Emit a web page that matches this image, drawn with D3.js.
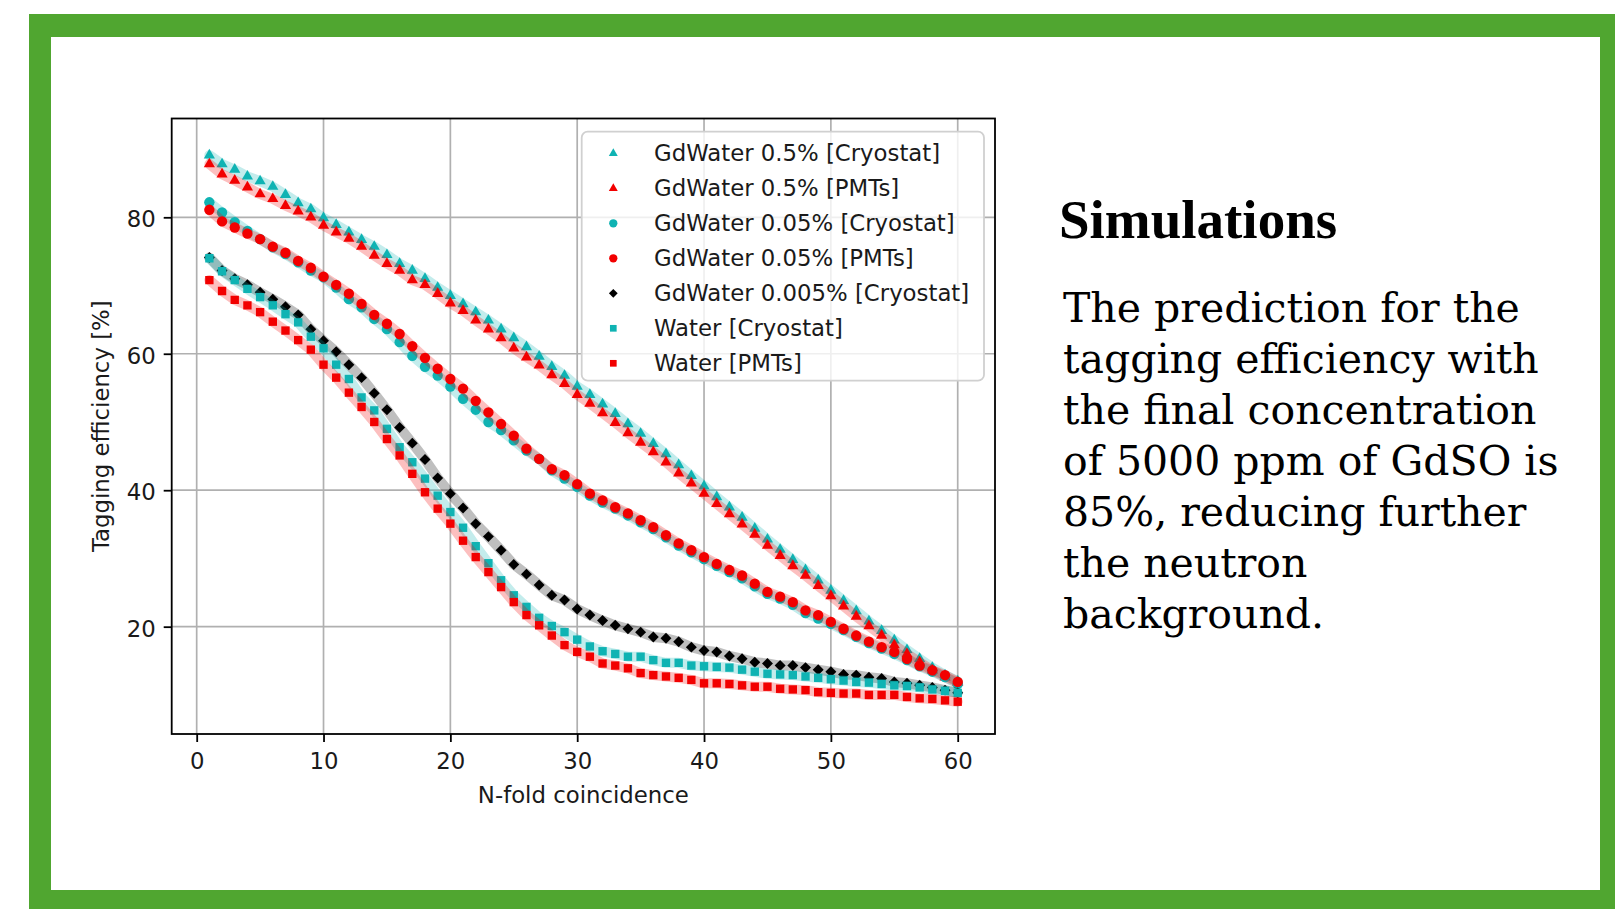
<!DOCTYPE html>
<html>
<head>
<meta charset="utf-8">
<script src="https://cdn.jsdelivr.net/npm/d3@7"></script>
<style>
  html, body { margin: 0; padding: 0; background: #fff; }
  svg { display: block; }
</style>
</head>
<body>
<svg id="chart" width="1615" height="909"></svg>
<script>
// ---------------- DATA ----------------
const nfold = [1,2,3,4,5,6,7,8,9,10,11,12,13,14,15,16,17,18,19,20,
               21,22,23,24,25,26,27,28,29,30,31,32,33,34,35,36,37,38,39,40,
               41,42,43,44,45,46,47,48,49,50,51,52,53,54,55,56,57,58,59,60];

const gd05Cryostat = [89.1,87.8,87.0,86.0,85.3,84.5,83.3,82.1,81.2,79.9,78.9,77.8,76.7,75.7,74.5,73.2,72.2,71.0,69.7,68.5,
                      67.3,66.1,64.9,63.6,62.3,61.0,59.6,58.1,56.8,55.2,54.0,52.6,51.2,49.7,48.3,46.8,45.3,43.7,42.1,40.6,
                      39.0,37.5,36.0,34.4,32.8,31.3,29.8,28.3,26.8,25.3,23.8,22.3,20.8,19.4,18.0,16.6,15.3,14.0,12.9,12.0];
const gd05PMTs     = [87.8,86.3,85.4,84.4,83.4,82.7,81.7,80.9,80.0,78.8,77.8,76.9,75.7,74.4,73.2,72.2,70.8,70.1,68.8,67.4,
                      66.3,64.9,63.6,62.3,60.8,59.5,58.3,56.9,55.6,54.0,52.7,51.3,49.9,48.4,47.0,45.6,44.1,42.5,41.0,39.5,
                      38.0,36.5,35.0,33.5,31.9,30.4,28.9,27.5,26.0,24.5,23.0,21.5,20.1,18.7,17.3,16.0,14.8,13.6,12.6,11.8];
const gd005Cryostat = [82.2,80.7,79.3,78.0,76.8,75.6,74.6,73.4,72.2,71.2,69.7,68.0,66.8,65.1,63.6,61.7,59.7,58.1,56.8,55.2,
                       53.4,51.8,50.0,48.8,47.3,45.8,44.6,42.9,41.7,40.5,39.2,38.2,37.3,36.3,35.3,34.3,33.1,31.9,30.9,29.9,
                       28.9,28.0,27.1,25.9,24.8,24.1,23.2,22.0,21.2,20.4,19.5,18.5,17.6,16.8,16.0,15.1,14.2,13.4,12.6,11.6];
const gd005PMTs     = [81.1,79.4,78.5,77.6,76.8,75.7,74.8,73.6,72.6,71.3,70.1,68.8,67.3,65.7,64.4,62.9,61.1,59.4,57.8,56.3,
                       54.9,53.1,51.4,49.7,48.0,46.1,44.6,43.1,42.2,40.9,39.5,38.5,37.5,36.6,35.6,34.6,33.4,32.2,31.2,30.2,
                       29.2,28.3,27.5,26.3,25.1,24.4,23.6,22.4,21.7,20.7,19.7,18.7,17.8,17.0,16.3,15.3,14.3,13.6,12.9,11.9];
const gd0005Cryostat = [74.1,72.2,71.0,70.1,69.0,68.0,66.9,65.7,63.6,61.9,60.3,58.4,56.5,54.2,51.8,49.2,46.9,44.5,41.8,39.5,
                        37.4,35.1,33.2,31.2,29.1,27.7,26.1,24.6,23.9,22.6,21.7,20.9,20.2,19.7,19.2,18.5,18.3,17.8,17.0,16.5,
                        16.3,15.7,15.3,14.8,14.6,14.3,14.3,14.0,13.7,13.4,13.0,12.9,12.6,12.4,11.9,11.7,11.4,11.1,10.7,10.3];
const waterCryostat = [74.0,72.1,70.8,69.5,68.3,67.1,65.8,64.6,62.5,60.8,58.4,56.3,53.6,51.7,49.0,46.3,44.1,41.7,39.2,36.8,
                       34.5,31.8,29.3,26.8,24.6,22.9,21.3,20.1,19.2,18.1,17.1,16.4,16.0,15.6,15.6,15.1,14.7,14.7,14.3,14.2,
                       14.1,14.0,13.7,13.4,13.1,13.0,12.9,12.7,12.5,12.3,12.1,11.9,11.8,11.6,11.4,11.3,11.1,10.8,10.6,10.3];
const waterPMTs     = [70.8,69.2,67.9,67.1,66.1,64.7,63.4,62.0,60.6,58.4,56.5,54.3,52.2,50.0,47.5,45.1,42.4,39.7,37.3,35.1,
                       32.6,30.2,28.0,25.8,23.6,21.7,20.2,18.7,17.3,16.3,15.6,14.6,14.3,13.9,13.2,12.9,12.7,12.5,12.2,11.7,
                       11.7,11.6,11.4,11.2,11.2,10.9,10.8,10.7,10.4,10.3,10.2,10.2,10.0,10.0,10.0,9.7,9.5,9.4,9.2,9.0];

const seriesNames = ["GdWater 0.5% [Cryostat]","GdWater 0.5% [PMTs]","GdWater 0.05% [Cryostat]",
                     "GdWater 0.05% [PMTs]","GdWater 0.005% [Cryostat]","Water [Cryostat]","Water [PMTs]"];
const seriesValues = [gd05Cryostat, gd05PMTs, gd005Cryostat, gd005PMTs, gd0005Cryostat, waterCryostat, waterPMTs];
const seriesColors = ["#0fb3b3","#f20000","#0fb3b3","#f20000","#000000","#0fb3b3","#f20000"];
const seriesShapes = ["triangle","triangle","circle","circle","diamond","square","square"];

const xTicks = [0,10,20,30,40,50,60];
const yTicks = [20,40,60,80];
const xLabel = "N-fold coincidence";
const yLabel = "Tagging efficiency [%]";
const titleText = "Simulations";
const bodyLines = ["The prediction for the","tagging efficiency with","the final concentration",
                   "of 5000 ppm of GdSO is","85%, reducing further","the neutron","background."];

// ---------------- LAYOUT ----------------
const svg = d3.select("#chart");
const plot = {left: 171.7, right: 995, top: 118.5, bottom: 734};

// Green frame
svg.append("rect").attr("x", 29).attr("y", 14).attr("width", 1615 - 29).attr("height", 909 - 14).attr("fill", "#50a630");
svg.append("rect").attr("x", 51).attr("y", 37).attr("width", 1600 - 51).attr("height", 890 - 37).attr("fill", "#ffffff");

const x = d3.scaleLinear().domain([-1.97, 62.94]).range([plot.left, plot.right]);
const y = d3.scaleLinear().domain([4.27, 94.48]).range([plot.bottom, plot.top]);

const fontSans = "'DejaVu Sans', Verdana, sans-serif";
const fs = 22.8;

// Grid
const grid = svg.append("g");
grid.selectAll("line.gx").data(xTicks).enter().append("line")
  .attr("x1", d => x(d)).attr("x2", d => x(d)).attr("y1", plot.top).attr("y2", plot.bottom)
  .attr("stroke", "#b0b0b0").attr("stroke-width", 1.7);
grid.selectAll("line.gy").data(yTicks).enter().append("line")
  .attr("y1", d => y(d)).attr("y2", d => y(d)).attr("x1", plot.left).attr("x2", plot.right)
  .attr("stroke", "#b0b0b0").attr("stroke-width", 1.7);

// clip
svg.append("clipPath").attr("id", "clip").append("rect")
  .attr("x", plot.left).attr("y", plot.top).attr("width", plot.right - plot.left).attr("height", plot.bottom - plot.top);

function symbolPath(shape, scale) {
  scale = scale || 1;
  if (shape === "triangle") return d3.symbol(d3.symbolTriangle, 54 * scale * scale)();
  if (shape === "circle") return d3.symbol(d3.symbolCircle, 84 * scale * scale)();
  if (shape === "square") return d3.symbol(d3.symbolSquare, 70 * scale * scale)();
  if (shape === "diamond") return d3.symbol(d3.symbolSquare, 60 * scale * scale)();
}

const line = d3.line().x((d, i) => x(nfold[i])).y(d => y(d));
const dataG = svg.append("g").attr("clip-path", "url(#clip)");

seriesValues.forEach((vals, si) => {
  dataG.append("path").datum(vals).attr("d", line)
    .attr("fill", "none").attr("stroke", seriesColors[si]).attr("stroke-opacity", 0.25)
    .attr("stroke-width", 10).attr("stroke-linejoin", "round").attr("stroke-linecap", "round");
  const shape = seriesShapes[si];
  dataG.selectAll(null).data(vals).enter().append("path")
    .attr("d", symbolPath(shape))
    .attr("transform", (d, i) => `translate(${x(nfold[i])},${y(d)})` + (shape === "diamond" ? " rotate(45)" : ""))
    .attr("fill", seriesColors[si]);
});

// Axes
const xAxis = d3.axisBottom(x).tickValues(xTicks).tickSize(8).tickPadding(11).tickFormat(d3.format("d"));
const yAxis = d3.axisLeft(y).tickValues(yTicks).tickSize(8).tickPadding(8).tickFormat(d3.format("d"));
const gx = svg.append("g").attr("transform", `translate(0,${plot.bottom})`).call(xAxis);
const gy = svg.append("g").attr("transform", `translate(${plot.left},0)`).call(yAxis);
[gx, gy].forEach(g => {
  g.select(".domain").remove();
  g.selectAll(".tick line").attr("stroke", "#000").attr("stroke-width", 1.8);
  g.selectAll(".tick text").attr("fill", "#1a1a1a").style("font-family", fontSans).style("font-size", fs + "px");
});
gy.selectAll(".tick text").attr("dy", "0.42em");

// Frame (spines)
svg.append("rect").attr("x", plot.left).attr("y", plot.top)
  .attr("width", plot.right - plot.left).attr("height", plot.bottom - plot.top)
  .attr("fill", "none").attr("stroke", "#000").attr("stroke-width", 1.8);

// Axis labels
svg.append("text").attr("x", (plot.left + plot.right) / 2).attr("y", 803)
  .attr("text-anchor", "middle").style("font-family", fontSans).style("font-size", fs + "px")
  .attr("fill", "#1a1a1a").text(xLabel);
svg.append("text").attr("transform", `translate(109,${(plot.top + plot.bottom) / 2}) rotate(-90)`)
  .attr("text-anchor", "middle").style("font-family", fontSans).style("font-size", fs + "px")
  .attr("fill", "#1a1a1a").text(yLabel);

// Legend
const leg = svg.append("g");
leg.append("rect").attr("x", 581.7).attr("y", 131.7).attr("width", 402.3).attr("height", 249)
  .attr("rx", 6).attr("fill", "#fff").attr("fill-opacity", 0.8).attr("stroke", "#d0d0d0").attr("stroke-width", 1.8);
seriesNames.forEach((name, i) => {
  const cy = 153.3 + 35 * i;
  const shape = seriesShapes[i];
  leg.append("path").attr("d", symbolPath(shape, 0.8))
    .attr("transform", `translate(613.3,${cy})` + (shape === "diamond" ? " rotate(45)" : ""))
    .attr("fill", seriesColors[i]);
  leg.append("text").attr("x", 654).attr("y", cy + 8)
    .style("font-family", fontSans).style("font-size", fs + "px").attr("fill", "#1a1a1a").text(name);
});

// Right-hand text
svg.append("text").attr("x", 1059).attr("y", 238.3)
  .style("font-family", "'Liberation Serif', 'Times New Roman', serif").style("font-weight", "bold")
  .style("font-size", "55px").attr("fill", "#000").text(titleText);
const body = svg.append("g");
bodyLines.forEach((t, i) => {
  body.append("text").attr("x", 1063).attr("y", 321.7 + 51 * i)
    .style("font-family", "'DejaVu Serif', serif").style("font-size", "41px").attr("fill", "#000").text(t);
});
</script>
</body>
</html>
